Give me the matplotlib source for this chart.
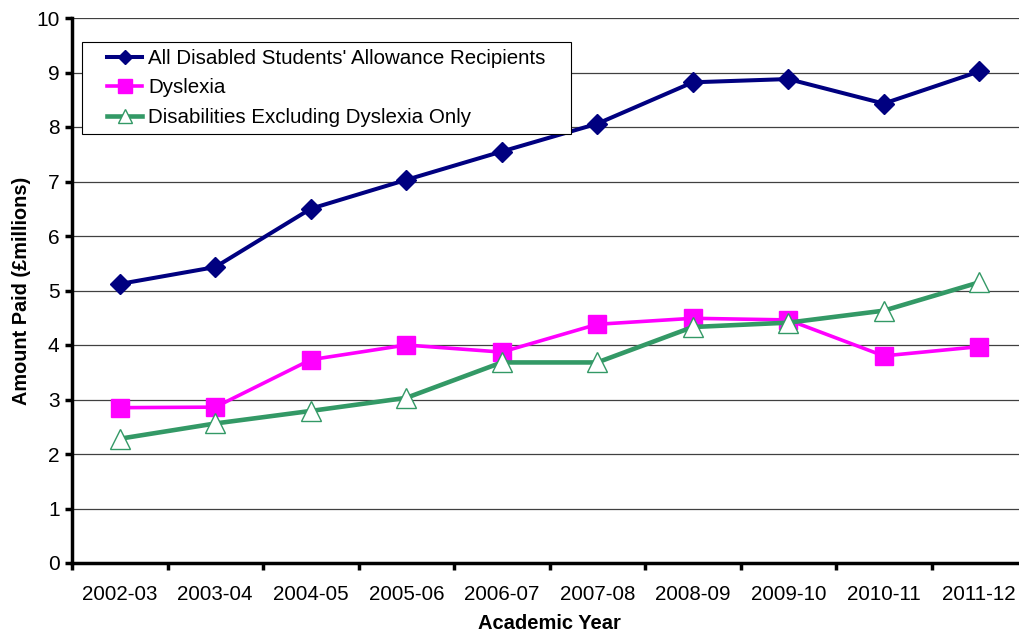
import numpy as np
import matplotlib.pyplot as plt
from matplotlib.patches import Rectangle

plt.rcParams['font.family'] = ['Liberation Sans', 'DejaVu Sans']

# Academic years and amounts paid (£ millions)
years = ['2002-03', '2003-04', '2004-05', '2005-06', '2006-07',
         '2007-08', '2008-09', '2009-10', '2010-11', '2011-12']
all_dsa = [5.12, 5.43, 6.50, 7.03, 7.55, 8.06, 8.82, 8.88, 8.43, 9.02]
dyslexia = [2.85, 2.86, 3.73, 4.00, 3.87, 4.38, 4.49, 4.46, 3.80, 3.97]
excl_dyslexia = [2.28, 2.56, 2.79, 3.03, 3.68, 3.68, 4.33, 4.41, 4.63, 5.15]

fig = plt.figure(figsize=(10.19, 6.31), dpi=100)
# axes run slightly past the right edge of the figure
ax = fig.add_axes([72 / 1019, 68 / 631, 955 / 1019, 545 / 631])

x = np.arange(len(years))
ax.plot(x, all_dsa, color='#000080', lw=2.9, marker='D', ms=9.7,
        label="All Disabled Students' Allowance Recipients", zorder=4)
ax.plot(x, dyslexia, color='#ff00ff', lw=2.6, marker='s', ms=13,
        label='Dyslexia', zorder=3)
ax.plot(x, excl_dyslexia, color='#339966', lw=3.3, marker='^', ms=14,
        mfc='white', mec='#339966', mew=1.0,
        label='Disabilities Excluding Dyslexia Only', zorder=5)

ax.set_xlim(-0.5, len(years) - 0.5)
ax.set_ylim(0, 10)
ax.set_yticks(np.arange(0, 11, 1))
ax.set_xticks(x)
ax.set_xticklabels(years, fontsize=14.8)
ax.tick_params(axis='y', labelsize=15)
ax.set_xticks(np.arange(-0.5, len(years), 1), minor=True)
ax.tick_params(axis='x', which='major', length=0, pad=16)
ax.tick_params(axis='x', which='minor', length=5, width=2.5, direction='out')
ax.tick_params(axis='y', length=5, width=2.5, direction='out', pad=4)

ax.grid(axis='y', color='#404040', lw=0.9)
ax.set_axisbelow(True)
for side in ['top', 'right']:
    ax.spines[side].set_visible(False)
ax.spines['left'].set_linewidth(2.5)
ax.spines['bottom'].set_linewidth(2.5)

ax.set_xlabel('Academic Year', fontsize=14.5, fontweight='bold', labelpad=7)
ax.set_ylabel('Amount Paid (£millions)', fontsize=14.3, fontweight='bold', labelpad=4)

leg = ax.legend(loc='upper left', bbox_to_anchor=(28 / 955, 1 - 24 / 545),
                fontsize=14.8, frameon=False,
                borderpad=0.35, handlelength=1.7, handletextpad=0.3,
                labelspacing=0.5, borderaxespad=0, markerscale=0.75)

# frame drawn by hand so it can be wider than the legend padding allows
fig.canvas.draw()
bb = leg.get_window_extent().transformed(fig.transFigure.inverted())
padx = 18 / 1019
frame = Rectangle((bb.x0 - padx, bb.y0), bb.width + 2 * padx, bb.height,
                  transform=fig.transFigure, facecolor='white',
                  edgecolor='black', lw=0.8, zorder=6)
fig.add_artist(frame)
leg.set_zorder(7)
leg.remove()
fig.add_artist(leg)

plt.savefig('out.png', dpi=100)
